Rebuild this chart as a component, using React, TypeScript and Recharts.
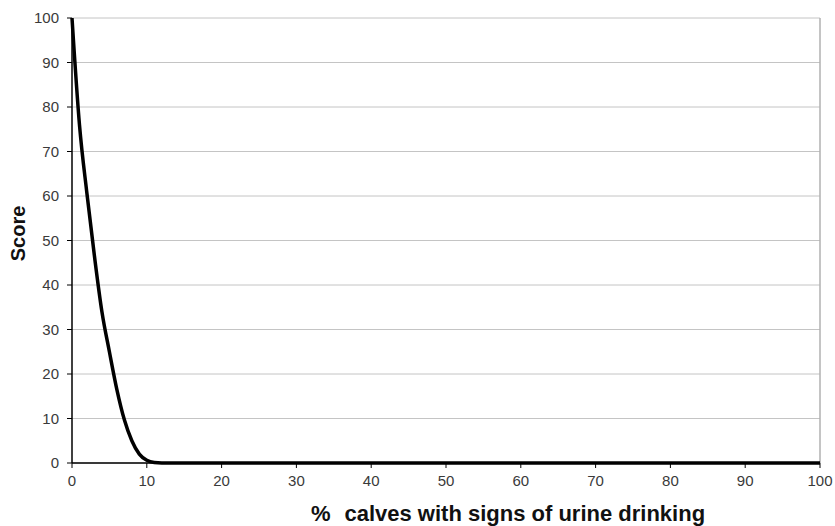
import { LineChart, Line, XAxis, YAxis, CartesianGrid, ReferenceLine, Label } from "recharts";

// % calves with signs of urine drinking
const pctCalves = [0, 1, 2, 3, 4, 5, 6, 7, 8, 9, 10, 11, 12, 100];
// score
const scores = [100, 76, 60.5, 46.5, 34, 25, 16.5, 9.7, 5, 2, 0.6, 0.1, 0, 0];

const xTicks = [0, 10, 20, 30, 40, 50, 60, 70, 80, 90, 100];
const yTicks = [0, 10, 20, 30, 40, 50, 60, 70, 80, 90, 100];

const data = pctCalves.map((x, i) => ({ x, score: scores[i] }));

const FONT = "'Liberation Sans', Arial, sans-serif";
const tickStyle = { fill: "#3a3a3a", fontSize: 15, fontFamily: FONT };

function XTitle(props: any) {
  const vb = props.viewBox;
  return (
    <text
      x={vb.x + vb.width / 2 + 62}
      y={vb.y + 58}
      textAnchor="middle"
      fontFamily={FONT}
      fontSize={22}
      fontWeight="bold"
      fill="#111"
    >
      <tspan>%</tspan>
      <tspan dx={14}>calves with signs of urine drinking</tspan>
    </text>
  );
}

function YTitle(props: any) {
  const vb = props.viewBox;
  const cx = 18;
  const cy = vb.y + vb.height / 2 - 7;
  return (
    <text
      x={cx}
      y={cy}
      transform={`rotate(-90 ${cx} ${cy})`}
      textAnchor="middle"
      dominantBaseline="central"
      fontFamily={FONT}
      fontSize={20}
      fontWeight="bold"
      fill="#111"
    >
      Score
    </text>
  );
}

export default function App() {
  return (
    <div style={{ position: "absolute", left: 0, top: 0, background: "#fff" }}>
      <LineChart
        width={835}
        height={526}
        data={data}
        margin={{ top: 18, right: 15, bottom: 0, left: 0 }}
      >
        <CartesianGrid vertical={false} stroke="#c4c4c4" strokeWidth={1} />
        <XAxis
          dataKey="x"
          type="number"
          domain={[0, 100]}
          ticks={xTicks}
          interval={0}
          height={63}
          tick={tickStyle}
          tickSize={5}
          tickMargin={7}
          axisLine={{ stroke: "#000", strokeWidth: 1.5 }}
          tickLine={{ stroke: "#000" }}
        >
          <Label content={<XTitle />} />
        </XAxis>
        <YAxis
          type="number"
          domain={[0, 100]}
          ticks={yTicks}
          interval={0}
          width={72}
          tick={tickStyle}
          tickSize={5}
          tickMargin={8}
          axisLine={{ stroke: "#000", strokeWidth: 1.5 }}
          tickLine={{ stroke: "#000" }}
        >
          <Label content={<YTitle />} />
        </YAxis>
        <ReferenceLine x={100} stroke="#b0b0b0" strokeWidth={1.5} />
        <Line
          type="monotone"
          dataKey="score"
          stroke="#000"
          strokeWidth={3.5}
          dot={false}
          isAnimationActive={false}
        />
      </LineChart>
    </div>
  );
}
